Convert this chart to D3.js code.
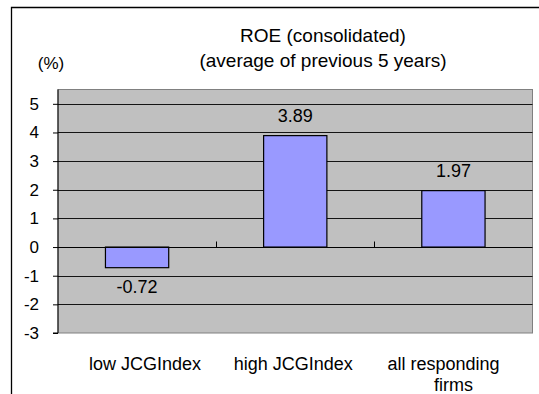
<!DOCTYPE html>
<html>
<head>
<meta charset="utf-8">
<script src="https://cdn.jsdelivr.net/npm/d3@7"></script>
<style>
	body { margin: 0; background: #fff; }
	text { font-family: "Liberation Sans", Arial, sans-serif; fill: #000; }
</style>
</head>
<body>
<script>
// chart data
var categories = ["low JCGIndex", "high JCGIndex", "all responding firms"];
var values = [-0.72, 3.89, 1.97];
var valueLabels = ["-0.72", "3.89", "1.97"];
var yTicks = [-3, -2, -1, 0, 1, 2, 3, 4, 5];
var titleLines = ["ROE (consolidated)", "(average of previous 5 years)"];

var width = 539, height = 394;
var plotLeft = 58, plotRight = 532.5, plotTop = 89.5, plotBottom = 333;
var labelNudge = [8, -2, -10]; //excel doesn't quite centre the category labels

var svg = d3.select("body").append("svg")
	.attr("width", width)
	.attr("height", height);

//outer frame (top and left edges only visible)
svg.append("path")
	.attr("d", "M11.5," + height + "V7.5H" + width)
	.attr("fill", "none")
	.attr("stroke", "#000")
	.attr("stroke-width", 1.3);

var x = d3.scaleBand()
	.domain(categories)
	.range([plotLeft, plotRight])
	.paddingInner(0.6)
	.paddingOuter(0.3);

var xBand = d3.scaleBand()
	.domain(categories)
	.range([plotLeft, plotRight]);

var y = d3.scaleLinear()
	.domain([-3, 5.5])
	.range([plotBottom, plotTop]);

//plot area
svg.append("rect")
	.attr("x", plotLeft)
	.attr("y", plotTop)
	.attr("width", plotRight - plotLeft)
	.attr("height", plotBottom - plotTop)
	.attr("fill", "#c0c0c0")
	.attr("stroke", "#808080")
	.attr("stroke-width", 1);

//gridlines
svg.append("g").selectAll("line")
	.data(yTicks.filter(function(d) { return d != -3 && d != 0; }))
	.enter().append("line")
	.attr("x1", plotLeft)
	.attr("x2", plotRight)
	.attr("y1", function(d) { return Math.round(y(d)) + 0.5; })
	.attr("y2", function(d) { return Math.round(y(d)) + 0.5; })
	.attr("stroke", "#000")
	.attr("stroke-width", 0.9);

//bars
svg.append("g").selectAll("rect")
	.data(values)
	.enter().append("rect")
	.attr("x", function(d, i) { return x(categories[i]); })
	.attr("width", x.bandwidth())
	.attr("y", function(d) { return y(Math.max(0, d)); })
	.attr("height", function(d) { return Math.abs(y(d) - y(0)); })
	.attr("fill", "#9999ff")
	.attr("stroke", "#000")
	.attr("stroke-width", 1.2);

//zero line with category separators
var zy = Math.round(y(0)) + 0.5;
svg.append("line")
	.attr("x1", plotLeft).attr("x2", plotRight)
	.attr("y1", zy).attr("y2", zy)
	.attr("stroke", "#000");
svg.append("g").selectAll("line")
	.data(categories.slice(1))
	.enter().append("line")
	.attr("x1", function(d) { return Math.round(xBand(d)) + 0.5; })
	.attr("x2", function(d) { return Math.round(xBand(d)) + 0.5; })
	.attr("y1", zy - 6).attr("y2", zy)
	.attr("stroke", "#000");

//y axis
var yAxis = d3.axisLeft(y)
	.tickValues(yTicks)
	.tickSize(5)
	.tickPadding(14)
	.tickFormat(function(d) { return String(d); }); //plain hyphen, not unicode minus

var ga = svg.append("g")
	.attr("transform", "translate(" + plotLeft + ",0)")
	.call(yAxis);
ga.select(".domain").attr("d", "M-5," + y(-3) + "H0V" + plotTop).attr("stroke", "#000");
ga.selectAll(".tick line").attr("stroke", "#000");
ga.selectAll("text").style("font-size", "17px").attr("font-family", null).attr("fill", "#000");

//value labels
svg.append("g").selectAll("text")
	.data(values)
	.enter().append("text")
	.attr("x", function(d, i) { return x(categories[i]) + x.bandwidth() / 2; })
	.attr("y", function(d) { return d >= 0 ? y(d) - 14 : y(d) + 25; })
	.attr("text-anchor", "middle")
	.style("font-size", "18px")
	.text(function(d, i) { return valueLabels[i]; });

//category labels
var cl = svg.append("g").selectAll("text")
	.data(categories)
	.enter().append("text")
	.attr("y", 370)
	.attr("text-anchor", "middle")
	.style("font-size", "18px");
cl.each(function(d, k) {
	var lines = d == "all responding firms" ? ["all responding", "firms"] : [d];
	var t = d3.select(this);
	lines.forEach(function(l, i) {
		t.append("tspan")
			.attr("x", xBand(d) + xBand.bandwidth() / 2 + (i == 0 ? labelNudge[k] : 0))
			.attr("dy", i == 0 ? 0 : 21)
			.text(l);
	});
});

//title
svg.append("g").selectAll("text")
	.data(titleLines)
	.enter().append("text")
	.attr("x", 323)
	.attr("y", function(d, i) { return 42 + i * 25; })
	.attr("text-anchor", "middle")
	.style("font-size", "19px")
	.text(function(d) { return d; });

svg.append("text")
	.attr("x", 51)
	.attr("y", 69)
	.attr("text-anchor", "middle")
	.style("font-size", "17px")
	.text("(%)");
</script>
</body>
</html>
